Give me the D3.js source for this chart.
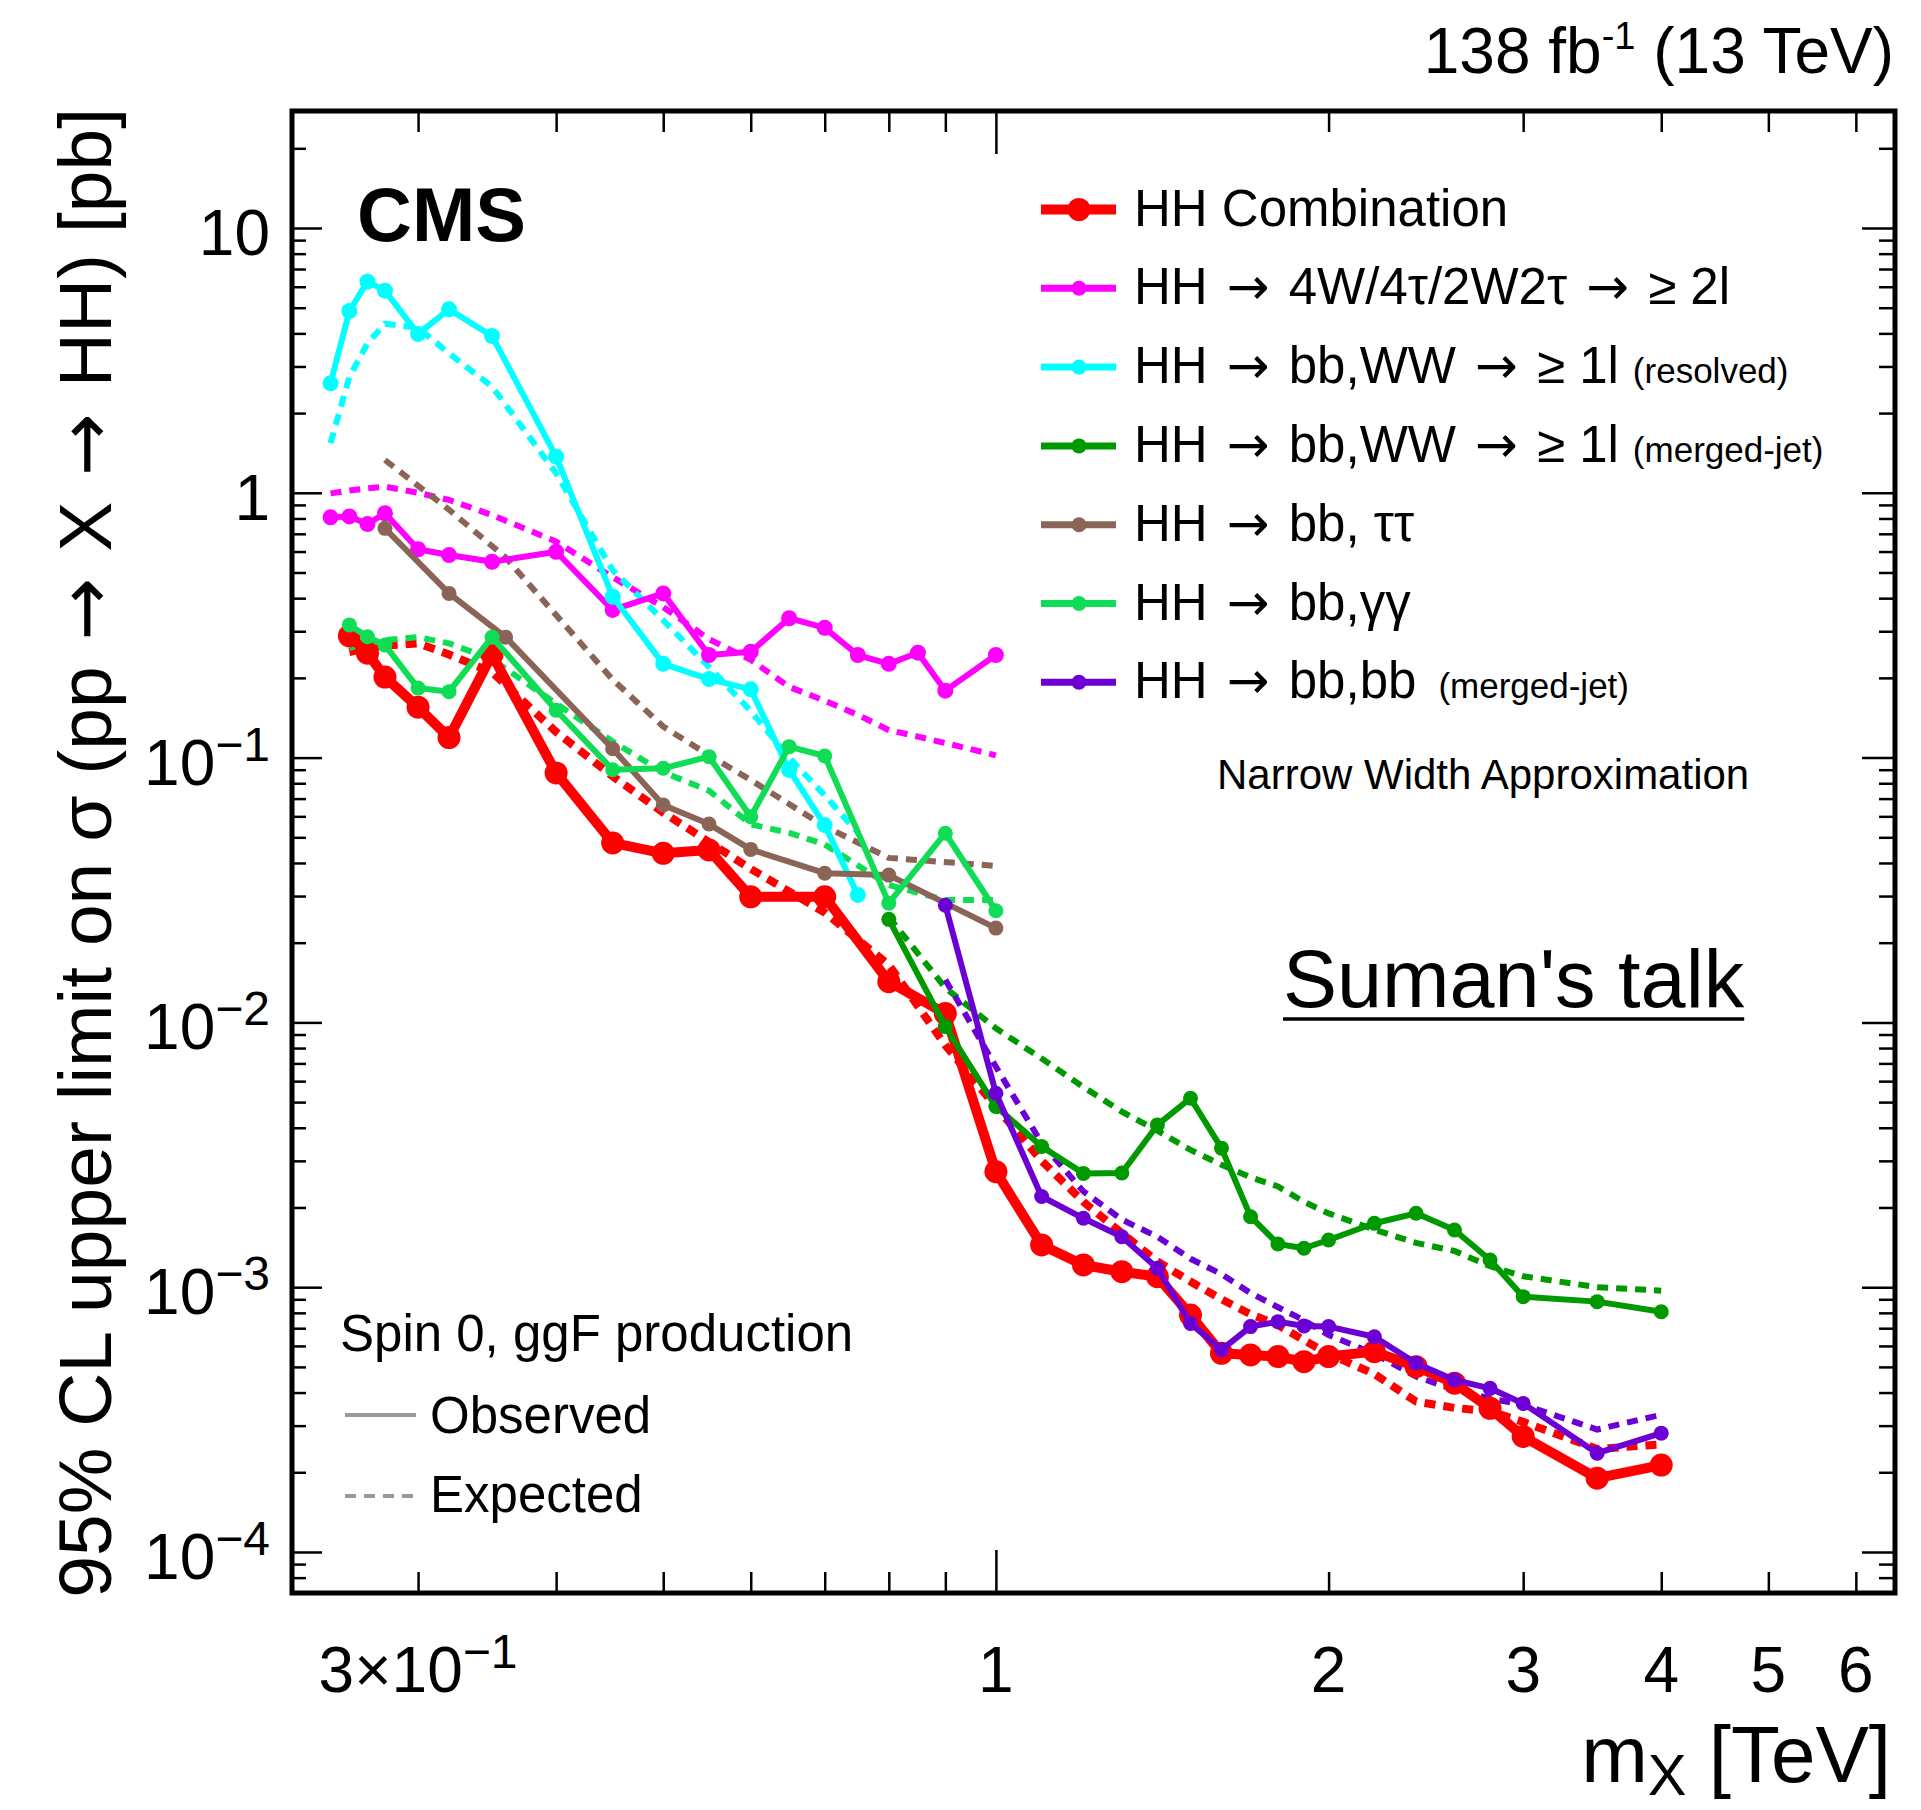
<!DOCTYPE html>
<html>
<head>
<meta charset="utf-8">
<script src="https://cdn.jsdelivr.net/npm/d3@7"></script>
<style>
  body { margin: 0; background: #fff; }
  svg { display: block; }
  text { font-family: "Liberation Sans", Arial, Helvetica, sans-serif; fill: #000; }
</style>
</head>
<body>
<div id="chart"></div>
<script>

// resonance mass m_X [TeV] and 95% CL limits [pb]
var massComb = [0.26, 0.27, 0.28, 0.30, 0.32, 0.35, 0.40, 0.45, 0.50, 0.55, 0.60, 0.70, 0.80, 0.90, 1.0,
                1.1, 1.2, 1.3, 1.4, 1.5, 1.6, 1.7, 1.8, 1.9, 2.0, 2.2, 2.4, 2.6, 2.8, 3.0, 3.5, 4.0];
var obsComb = [0.288, 0.248, 0.2015, 0.155, 0.119, 0.245, 0.0875, 0.0476, 0.0435, 0.0448, 0.0298, 0.0298, 0.01425, 0.0108, 0.00273,
               0.001444, 0.001213, 0.001144, 0.001096, 0.000785, 0.000563, 0.000555, 0.000547, 0.000523, 0.000547, 0.000571, 0.000501, 0.000434, 0.000349, 0.000273, 0.00019, 0.000213];
var expComb = [0.25, 0.26, 0.265, 0.27, 0.245, 0.21, 0.125, 0.085, 0.062, 0.048, 0.038, 0.026, 0.0165, 0.0082, 0.0048,
               0.0030, 0.0021, 0.0016, 0.00125, 0.00105, 0.0009, 0.00079, 0.00072, 0.00063, 0.00056, 0.00047, 0.00037, 0.00035, 0.00034, 0.00031, 0.000245, 0.000255];

var mass4W = [0.25, 0.26, 0.27, 0.28, 0.30, 0.32, 0.35, 0.40, 0.45, 0.50, 0.55, 0.60, 0.65, 0.70, 0.75, 0.80, 0.85, 0.90, 1.0];
var obs4W = [0.808, 0.814, 0.762, 0.837, 0.612, 0.582, 0.549, 0.599, 0.361, 0.417, 0.244, 0.251, 0.336, 0.309, 0.244, 0.226, 0.249, 0.179, 0.244];
var exp4W = [0.995, 1.02, 1.04, 1.055, 1.0, 0.94, 0.824, 0.654, 0.48, 0.37, 0.28, 0.234, 0.185, 0.164, 0.145, 0.127, 0.12, 0.1135, 0.102];

var massWWres = [0.25, 0.26, 0.27, 0.28, 0.30, 0.32, 0.35, 0.40, 0.45, 0.50, 0.55, 0.60, 0.65, 0.70, 0.75];
var obsWWres = [2.59, 4.86, 6.27, 5.80, 3.98, 4.93, 3.91, 1.369, 0.405, 0.226, 0.198, 0.181, 0.0898, 0.0556, 0.0303];
var expWWres = [1.54, 2.74, 3.67, 4.35, 4.2, 3.36, 2.52, 1.185, 0.51, 0.33, 0.22, 0.15, 0.1, 0.072, 0.052];

var massWWmj = [0.8, 0.9, 1.0, 1.1, 1.2, 1.3, 1.4, 1.5, 1.6, 1.7, 1.8, 1.9, 2.0, 2.2, 2.4, 2.6, 2.8, 3.0, 3.5, 4.0];
var obsWWmj = [0.0245, 0.00964, 0.00481, 0.0034, 0.00269, 0.0027, 0.0041, 0.00517, 0.00335, 0.001846, 0.001455, 0.001403, 0.001507, 0.001743, 0.001901, 0.001644, 0.001267, 0.000921, 0.000882, 0.000808];
var expWWmj = [0.025, 0.0135, 0.0095, 0.0073, 0.0057, 0.0046, 0.0039, 0.0033, 0.0029, 0.0026, 0.0024, 0.0021, 0.0019, 0.00165, 0.00147, 0.00137, 0.0012, 0.0011, 0.001, 0.00097];

var massTT = [0.28, 0.32, 0.36, 0.45, 0.50, 0.55, 0.60, 0.70, 0.80, 1.0];
var obsTT = [0.734, 0.417, 0.285, 0.108, 0.0662, 0.0561, 0.045, 0.0366, 0.036, 0.0227];
var expTT = [1.33, 0.863, 0.57, 0.197, 0.131, 0.102, 0.0823, 0.055, 0.0418, 0.039];

var massGG = [0.26, 0.27, 0.28, 0.30, 0.32, 0.35, 0.40, 0.45, 0.50, 0.55, 0.60, 0.65, 0.70, 0.80, 0.90, 1.0];
var obsGG = [0.317, 0.286, 0.266, 0.183, 0.1774, 0.285, 0.151, 0.09, 0.0911, 0.1008, 0.0598, 0.11, 0.1014, 0.0282, 0.0518, 0.0264];
var expGG = [0.26, 0.27, 0.278, 0.285, 0.27, 0.235, 0.16, 0.115, 0.088, 0.075, 0.056, 0.052, 0.047, 0.033, 0.029, 0.029];

var massBB = [0.9, 1.0, 1.1, 1.2, 1.3, 1.4, 1.5, 1.6, 1.7, 1.8, 1.9, 2.0, 2.2, 2.4, 2.6, 2.8, 3.0, 3.5, 4.0];
var obsBB = [0.0277, 0.0054, 0.0022, 0.00182, 0.00155, 0.001178, 0.00073, 0.00058, 0.00071, 0.000741, 0.000714, 0.00071, 0.00065, 0.000516, 0.000446, 0.000415, 0.000364, 0.000236, 0.000281];
var expBB = [0.0145, 0.0068, 0.0035, 0.0023, 0.0018, 0.00155, 0.00128, 0.00112, 0.00095, 0.00084, 0.00075, 0.00066, 0.00056, 0.00046, 0.00041, 0.00038, 0.00036, 0.00029, 0.00033];

var legendLabels = ["HH Combination", "HH \u2192 4W/4\u03c4/2W2\u03c4 \u2192 \u2265 2l", "HH \u2192 bb,WW \u2192 \u2265 1l",
                    "HH \u2192 bb,WW \u2192 \u2265 1l", "HH \u2192 bb, \u03c4\u03c4", "HH \u2192 bb,\u03b3\u03b3", "HH \u2192 bb,bb"];
var legendNotes = ["", "", "(resolved)", "(merged-jet)", "", "", "(merged-jet)"];

var xTickLabels = [[0.3, "3\u00d710", "\u22121"], [1, "1"], [2, "2"], [3, "3"], [4, "4"], [5, "5"], [6, "6"]];
var yTickLabels = [[10, "10"], [1, "1"], [0.1, "10", "\u22121"], [0.01, "10", "\u22122"], [0.001, "10", "\u22123"], [0.0001, "10", "\u22124"]];
var xMinorTicks = [0.3, 0.4, 0.5, 0.6, 0.7, 0.8, 0.9, 2, 3, 4, 5, 6];
var xMajorTicks = [1];
var yMajorTicks = [0.0001, 0.001, 0.01, 0.1, 1, 10];

// ---- layout
var width = 1921, height = 1810;
var frame = { left: 292, right: 1895, top: 111, bottom: 1593 };

var x = d3.scaleLog().domain([0.2307, 6.51]).range([frame.left, frame.right]);
var y = d3.scaleLog().domain([7.0e-5, 27.66]).range([frame.bottom, frame.top]);

var yMinorTicks = [];
[-5, -4, -3, -2, -1, 0, 1].forEach(function (e) {
  for (var k = 2; k <= 9; k++) {
    var v = k * Math.pow(10, e);
    if (v > y.domain()[0] && v < y.domain()[1]) yMinorTicks.push(v);
  }
});

var svg = d3.select('#chart').append('svg').attr('width', width).attr('height', height);
svg.append('rect').attr('width', width).attr('height', height).attr('fill', '#fff');

function zip(ms, vs) {
  return ms.map(function (m, i) { return { m: m, v: vs[i] }; });
}

// ROOT draws arrows from the symbol font, long and thin; DejaVu's is closer
function arrowText(sel, str) {
  str.split('\u2192').forEach(function (part, i) {
    if (i > 0) sel.append('tspan').attr('font-family', '"DejaVu Sans"').attr('dx', 5).text('\u2192');
    var t = sel.append('tspan').text(part);
    if (i > 0) t.attr('dx', 5);
  });
  return sel;
}

var series = [
  { mass: massComb, obs: obsComb, exp: expComb, color: '#ff0000', lw: 10, ew: 8, r: 11.5 },
  { mass: mass4W, obs: obs4W, exp: exp4W, color: '#ff00ff', lw: 6, ew: 6, r: 8 },
  { mass: massWWres, obs: obsWWres, exp: expWWres, color: '#00ffff', lw: 6, ew: 6, r: 8 },
  { mass: massWWmj, obs: obsWWmj, exp: expWWmj, color: '#009900', lw: 6, ew: 6, r: 7.5 },
  { mass: massTT, obs: obsTT, exp: expTT, color: '#8b6458', lw: 6, ew: 6, r: 7.5 },
  { mass: massGG, obs: obsGG, exp: expGG, color: '#10dd55', lw: 6, ew: 6, r: 7.5 },
  { mass: massBB, obs: obsBB, exp: expBB, color: '#6c00d4', lw: 6, ew: 6, r: 7.5 }
];

var line = d3.line().x(function (d) { return x(d.m); }).y(function (d) { return y(d.v); });

var plot = svg.append('g');

// expected (dashed) first
series.forEach(function (s) {
  plot.append('path')
    .datum(zip(s.mass, s.exp))
    .attr('d', line)
    .attr('fill', 'none')
    .attr('stroke', s.color)
    .attr('stroke-width', s.ew)
    .attr('stroke-dasharray', '11 8');
});

// observed
series.forEach(function (s) {
  var g = plot.append('g');
  var pts = zip(s.mass, s.obs);
  g.append('path')
    .datum(pts)
    .attr('d', line)
    .attr('fill', 'none')
    .attr('stroke', s.color)
    .attr('stroke-width', s.lw)
    .attr('stroke-linejoin', 'round');
  g.selectAll('circle')
    .data(pts)
    .enter()
    .append('circle')
    .attr('cx', function (d) { return x(d.m); })
    .attr('cy', function (d) { return y(d.v); })
    .attr('r', s.r)
    .attr('fill', s.color);
});

// ---- axes (ROOT style, ticks inside the frame on all four sides)
function drawTicks(axis, tr) {
  var g = svg.append('g').attr('transform', tr).call(axis);
  g.select('.domain').remove();
  g.selectAll('text').remove();
  g.selectAll('line').attr('stroke', '#000').attr('stroke-width', 2.5);
}
drawTicks(d3.axisBottom(x).tickValues(xMinorTicks).tickSize(-21), 'translate(0,' + frame.bottom + ')');
drawTicks(d3.axisBottom(x).tickValues(xMajorTicks).tickSize(-43), 'translate(0,' + frame.bottom + ')');
drawTicks(d3.axisTop(x).tickValues(xMinorTicks).tickSize(-21), 'translate(0,' + frame.top + ')');
drawTicks(d3.axisTop(x).tickValues(xMajorTicks).tickSize(-43), 'translate(0,' + frame.top + ')');
drawTicks(d3.axisLeft(y).tickValues(yMinorTicks).tickSize(-14), 'translate(' + frame.left + ',0)');
drawTicks(d3.axisLeft(y).tickValues(yMajorTicks).tickSize(-30), 'translate(' + frame.left + ',0)');
drawTicks(d3.axisRight(y).tickValues(yMinorTicks).tickSize(-16), 'translate(' + frame.right + ',0)');
drawTicks(d3.axisRight(y).tickValues(yMajorTicks).tickSize(-33), 'translate(' + frame.right + ',0)');

svg.append('rect')
  .attr('x', frame.left).attr('y', frame.top)
  .attr('width', frame.right - frame.left).attr('height', frame.bottom - frame.top)
  .attr('fill', 'none').attr('stroke', '#000').attr('stroke-width', 5);

// tick labels
xTickLabels.forEach(function (t) {
  var txt = svg.append('text')
    .attr('x', x(t[0])).attr('y', 1692)
    .attr('text-anchor', 'middle')
    .attr('font-size', 64)
    .text(t[1]);
  if (t[2]) {
    txt.append('tspan').attr('dy', -24).attr('font-size', 48).text(t[2]);
  }
});
yTickLabels.forEach(function (t) {
  var txt = svg.append('text')
    .attr('x', 270).attr('y', y(t[0]) + 27)
    .attr('text-anchor', 'end')
    .attr('font-size', 64)
    .text(t[1]);
  if (t[2]) {
    txt.append('tspan').attr('dy', -24).attr('font-size', 48).text(t[2]);
  }
});

// axis titles
arrowText(svg.append('text')
  .attr('transform', 'translate(111,108) rotate(-90)')
  .attr('text-anchor', 'end')
  .attr('font-size', 75),
  '95% CL upper limit on \u03c3 (pp \u2192 X \u2192 HH) [pb]');

var xt = svg.append('text')
  .attr('x', 1891).attr('y', 1782)
  .attr('text-anchor', 'end')
  .attr('font-size', 80);
xt.append('tspan').text('m');
xt.append('tspan').attr('dy', 13).attr('font-size', 58).text('X');
xt.append('tspan').attr('dy', -13).text(' [TeV]');

// header
var lumi = svg.append('text')
  .attr('x', 1894).attr('y', 73)
  .attr('text-anchor', 'end')
  .attr('font-size', 64);
lumi.append('tspan').text('138 fb');
lumi.append('tspan').attr('dy', -24).attr('font-size', 38).text('-1');
lumi.append('tspan').attr('dy', 24).text(' (13 TeV)');

svg.append('text')
  .attr('x', 357).attr('y', 241)
  .attr('font-size', 76).attr('font-weight', 'bold')
  .text('CMS');

// legend
var legY0 = 209.5, legDy = 78.8;
var leg = svg.append('g');
series.forEach(function (s, i) {
  var yy = legY0 + i * legDy;
  leg.append('line')
    .attr('x1', 1041).attr('x2', 1116).attr('y1', yy).attr('y2', yy)
    .attr('stroke', s.color).attr('stroke-width', s.lw === 10 ? 10 : 7);
  leg.append('circle')
    .attr('cx', 1079).attr('cy', yy).attr('r', s.r === 11.5 ? 11.5 : 7.5)
    .attr('fill', s.color);
  var t = arrowText(leg.append('text')
    .attr('x', 1134).attr('y', yy + 16)
    .attr('font-size', 51), legendLabels[i]);
  if (legendNotes[i]) {
    t.append('tspan').attr('font-size', 35).attr('dx', i === 6 ? 22 : 14).text(legendNotes[i]);
  }
});

svg.append('text')
  .attr('x', 1217).attr('y', 789)
  .attr('font-size', 42)
  .text('Narrow Width Approximation');

// talk label
var talk = svg.append('text')
  .attr('x', 1283).attr('y', 1007)
  .attr('font-size', 81)
  .text("Suman's talk");
var tw = talk.node().getComputedTextLength();
svg.append('line')
  .attr('x1', 1283).attr('x2', 1283 + tw)
  .attr('y1', 1019).attr('y2', 1019)
  .attr('stroke', '#000').attr('stroke-width', 3.5);

// observed / expected key
svg.append('text')
  .attr('x', 340).attr('y', 1351)
  .attr('font-size', 51)
  .text('Spin 0, ggF production');
svg.append('line')
  .attr('x1', 345).attr('x2', 416).attr('y1', 1415).attr('y2', 1415)
  .attr('stroke', '#999').attr('stroke-width', 4);
svg.append('text').attr('x', 430).attr('y', 1433).attr('font-size', 51).text('Observed');
svg.append('line')
  .attr('x1', 345).attr('x2', 416).attr('y1', 1496).attr('y2', 1496)
  .attr('stroke', '#999').attr('stroke-width', 4).attr('stroke-dasharray', '11 8');
svg.append('text').attr('x', 430).attr('y', 1512).attr('font-size', 51).text('Expected');

</script>
</body>
</html>
